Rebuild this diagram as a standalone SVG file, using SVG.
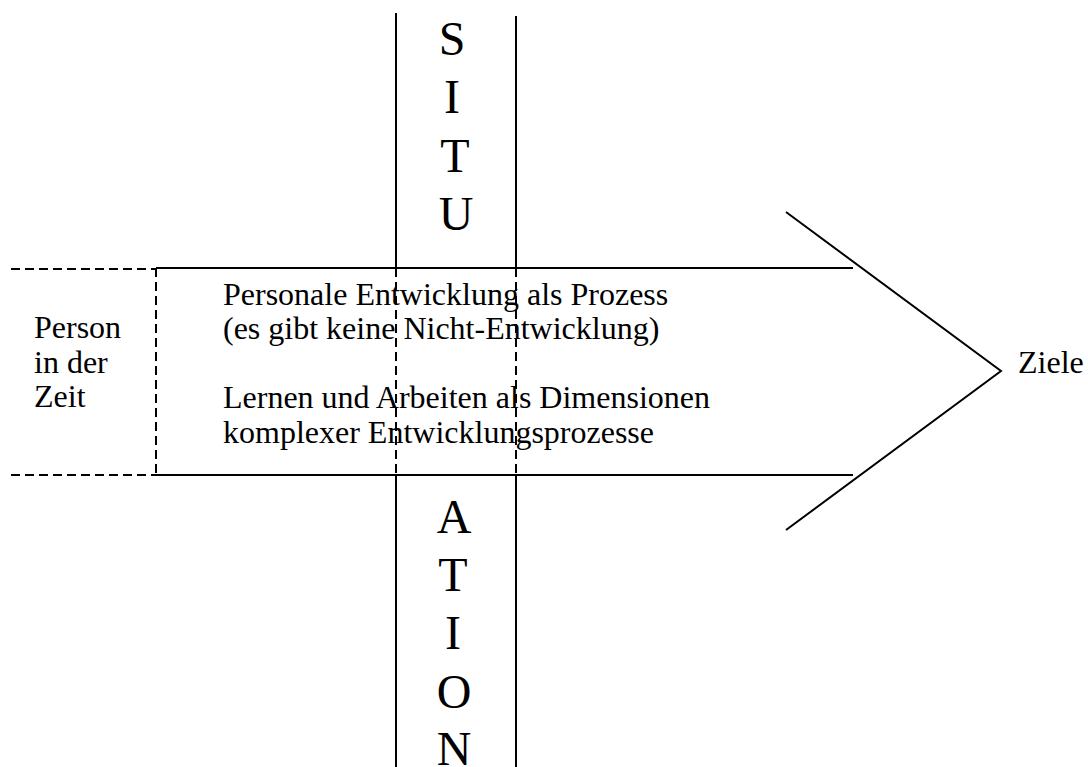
<svg xmlns="http://www.w3.org/2000/svg" width="1088" height="767" viewBox="0 0 1088 767">
<style>
.s{stroke:#000;stroke-width:2;fill:none}
.d{stroke:#000;stroke-width:2;fill:none;stroke-dasharray:9 5}
.t{font-family:"Liberation Serif","Times New Roman",serif;font-size:32px;fill:#000}
.b{font-family:"Liberation Serif","Times New Roman",serif;font-size:48px;fill:#000;text-anchor:middle}
</style>
<rect width="1088" height="767" fill="#fff"/>
<g id="connectors">
<line class="s" x1="396" y1="13" x2="396" y2="268"/>
<line class="d" x1="396" y1="268" x2="396" y2="475"/>
<line class="s" x1="396" y1="475" x2="396" y2="767"/>
<line class="s" x1="516" y1="16" x2="516" y2="268"/>
<line class="d" x1="516" y1="268" x2="516" y2="475"/>
<line class="s" x1="516" y1="475" x2="516" y2="767"/>
<line class="s" x1="156" y1="268" x2="853" y2="268"/>
<line class="s" x1="156" y1="475" x2="853" y2="475"/>
<line class="d" x1="11" y1="269" x2="156" y2="269"/>
<line class="d" x1="11" y1="475" x2="156" y2="475"/>
<line class="d" x1="156" y1="268" x2="156" y2="475"/>
<polyline class="s" points="786,212 1001,371 786,530"/>
</g>
<g id="situ">
<text class="b" x="452" y="55">S</text>
<text class="b" x="452" y="113">I</text>
<text class="b" x="455" y="172">T</text>
<text class="b" x="456" y="230">U</text>
</g>
<g id="ation">
<text class="b" x="454" y="533">A</text>
<text class="b" x="453" y="591">T</text>
<text class="b" x="453" y="649">I</text>
<text class="b" x="454" y="708">O</text>
<text class="b" x="454" y="765">N</text>
</g>
<g id="person">
<text class="t" x="34" y="338">Person</text>
<text class="t" x="34" y="373">in der</text>
<text class="t" x="34" y="407">Zeit</text>
</g>
<g id="process">
<text class="t" x="223" y="305">Personale Entwicklung als Prozess</text>
<text class="t" x="223" y="339">(es gibt keine Nicht-Entwicklung)</text>
<text class="t" x="223" y="408">Lernen und Arbeiten als Dimensionen</text>
<text class="t" x="223" y="443">komplexer Entwicklungsprozesse</text>
</g>
<g id="ziele">
<text class="t" x="1018" y="373">Ziele</text>
</g>
</svg>
